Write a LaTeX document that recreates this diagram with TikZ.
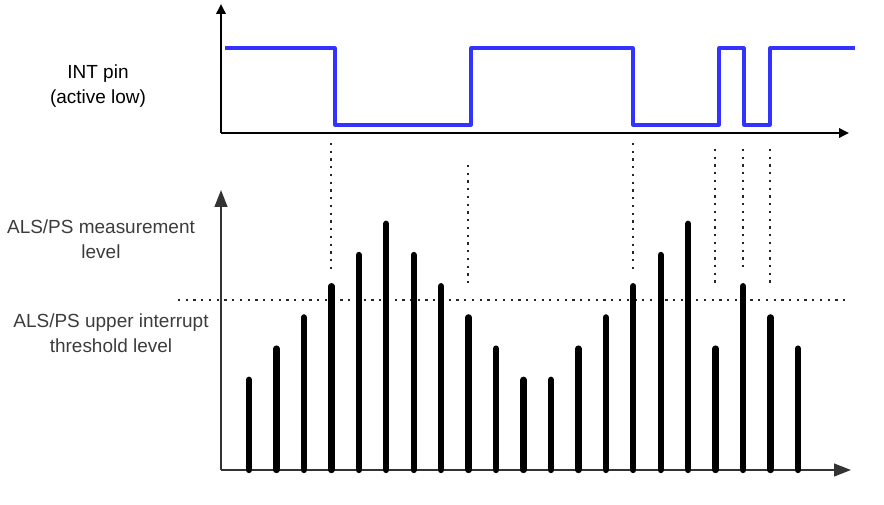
\documentclass[tikz,border=0pt]{standalone}
\usepackage{fontspec}
\setmainfont{Liberation Sans}
\usepackage{tikz}
\usetikzlibrary{arrows.meta}

\definecolor{intblue}{RGB}{51,51,255}
\definecolor{labelgray}{RGB}{60,60,60}

\begin{document}
\begin{tikzpicture}[x=0.025cm, y=-0.025cm,
  lbl/.style={font=\fontsize{13.5}{18}\selectfont, align=center},
  dotline/.style={line width=1.6pt, dash pattern=on 1.6pt off 3.9pt, black!85}]
  \useasboundingbox (0,0) rectangle (884,505);
  %% INT pin waveform (top)
  \node[lbl] (intlabel) at (98,86) {INT pin\\(active low)};
  \draw[line width=2.1pt, -{Triangle[length=7pt, width=6.5pt]}] (221,133) -- (221,4);
  \draw[line width=2.1pt, -{Triangle[length=7pt, width=6.5pt]}] (221,133) -- (849,133);
  \draw[intblue, line width=2.2pt, line join=round]
    (225,48) -- (335,48) -- (335,125) -- (471,125) -- (471,48) -- (633,48)
    -- (633,125) -- (719,125) -- (719,48) -- (744,48) -- (744,125)
    -- (770,125) -- (770,48) -- (855,48);
  %% Measurement chart (bottom)
  \node[lbl, labelgray] (measlabel) at (101,239) {ALS/PS measurement\\level};
  \node[lbl, labelgray] (threshlabel) at (111,333) {ALS/PS upper interrupt\\threshold level};
  \draw[line width=1.4pt, black!80, -{Triangle[length=12pt, width=9pt]}] (221,470) -- (221,190);
  \draw[line width=1.4pt, black!80, -{Triangle[length=12pt, width=9pt]}] (221,470) -- (851,470);
  %% Threshold level
  \draw[dotline] (178,300) -- (847,300);
  %% Samples
  \foreach \h [count=\i from 0] in {1,2,3,4,5,6,5,4,3,2,1,1,2,3,4,5,6,2,4,3,2}
    \draw[line width=4.5pt, line cap=round] (249+27.45*\i,470) -- (249+27.45*\i,411-31.2*\h);
  %% Links from INT edges to samples
  \foreach \x/\t/\b in {331/143/270, 468/165/285, 633/143/270, 715/149/285, 743/149/270, 770/149/285}
    \draw[dotline] (\x,\t) -- (\x,\b);
\end{tikzpicture}
\end{document}
